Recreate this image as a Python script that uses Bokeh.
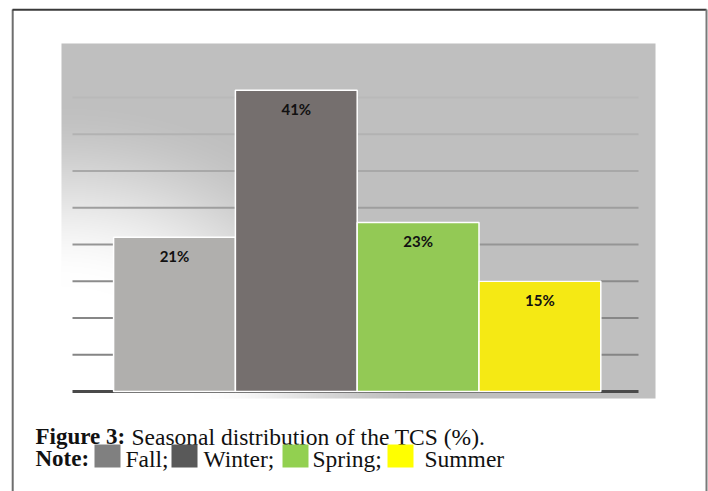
import numpy as np
from bokeh.plotting import figure
from bokeh.models import Range1d
from bokeh.core.properties import value
from bokeh.embed import file_html
from bokeh.resources import INLINE

# ---- data ----
seasons = ["Fall", "Winter", "Spring", "Summer"]
percent = [21, 41, 23, 15]
bar_colors = ["#b0afad", "#756f6e", "#93c955", "#f5e914"]
legend_colors = ["#808080", "#595959", "#92d050", "#ffff00"]
grid_levels = [5, 10, 15, 20, 25, 30, 35, 40]
caption_bold = "Figure 3:"
caption_text = "Seasonal distribution of the TCS (%)."
note_bold = "Note:"
legend_words = ["Fall;", "Winter;", "Spring;", "Summer"]

# ---- layout helpers (page pixel -> data units) ----
W, H = 708, 491
OFF = 0
X0, XS = 174.0, 121.8
Y0, YS = 391.0, 7.35


def px(xp):
    return (xp - X0) / XS


def py(yp):
    return (Y0 - yp) / YS


p = figure(width=W, height=H,
           x_range=Range1d(px(OFF), px(OFF + W)),
           y_range=Range1d(py(OFF + H), py(OFF)),
           output_backend="svg", toolbar_location=None,
           min_border=0, outline_line_color=None,
           x_axis_location=None, y_axis_location=None,
           background_fill_color="white", border_fill_color="white")
p.grid.visible = False

# ---- gradient panel ----
pw, ph = 594, 355
jj, ii = np.meshgrid(np.arange(pw), np.arange(ph))
d = np.sqrt((jj / 380.0) ** 2 + (ii / 320.0) ** 2)
t = np.clip((0.95 - d) / 0.6, 0, 1)
t = t * t * (3 - 2 * t)
g = (191 + 64 * t).astype(np.uint32)
img = (255 << 24) | (g << 16) | (g << 8) | g
img = img.astype(np.uint32)
p.image_rgba(image=[img], x=px(61), y=py(398), dw=pw / XS, dh=ph / YS)

# ---- grid lines ----
grid_cols = ["#858585", "#878787", "#8b8b8b", "#959595", "#9e9e9e", "#a8a8a8", "#b2b2b2", "#b9b9b9"]
p.segment(x0=[px(72)] * len(grid_levels), x1=[px(638)] * len(grid_levels),
          y0=grid_levels, y1=grid_levels, line_color=grid_cols, line_width=2)
p.segment(x0=[px(72)], x1=[px(638)], y0=[0], y1=[0], line_color="#4a4a4a", line_width=3)

# ---- bars ----
xs = list(range(len(seasons)))
p.vbar(x=xs, top=percent, bottom=0, width=1.0, fill_color=bar_colors,
       line_color="white", line_width=1.5)
p.text(x=xs, y=[v - 18.5 / YS for v in percent], text=[f"{v}%" for v in percent],
       text_font=value("Lato"), text_font_style="bold", text_font_size="15px",
       text_align="center", text_baseline="middle", text_color="#111111")

# ---- outer border ----
p.segment(x0=[px(12.2), px(12), px(706)], x1=[px(12.2), px(706), px(706)],
          y0=[py(9), py(9.2), py(9)], y1=[py(520), py(9.2), py(520)],
          line_color=["#6e6e6e", "#3a3a3a", "#7a7a7a"], line_width=2)

# ---- caption ----
serif = value("Liberation Serif")
p.text(x=[px(35)], y=[py(436)], text=[caption_bold], text_font=serif,
       text_font_style="bold", text_font_size="23px", text_baseline="alphabetic",
       text_color="#111111")
p.text(x=[px(131)], y=[py(436)], text=[caption_text], text_font=serif,
       text_font_size="23.5px", text_baseline="alphabetic", text_color="#111111")
p.text(x=[px(35)], y=[py(458)], text=[note_bold], text_font=serif,
       text_font_style="bold", text_font_size="23px", text_baseline="alphabetic",
       text_color="#111111")
sq_left = [94, 171, 282, 387]
word_left = [125, 203, 312, 424]
p.quad(left=[px(v) for v in sq_left], right=[px(v + 26) for v in sq_left],
       top=[py(444)] * 4, bottom=[py(467)] * 4, fill_color=legend_colors, line_color=None)
p.text(x=[px(v) for v in word_left], y=[py(458)] * 4, text=legend_words, text_font=serif,
       text_font_size="23.5px", text_baseline="alphabetic", text_color="#111111")

open("out.html", "w").write(file_html(p, INLINE))
